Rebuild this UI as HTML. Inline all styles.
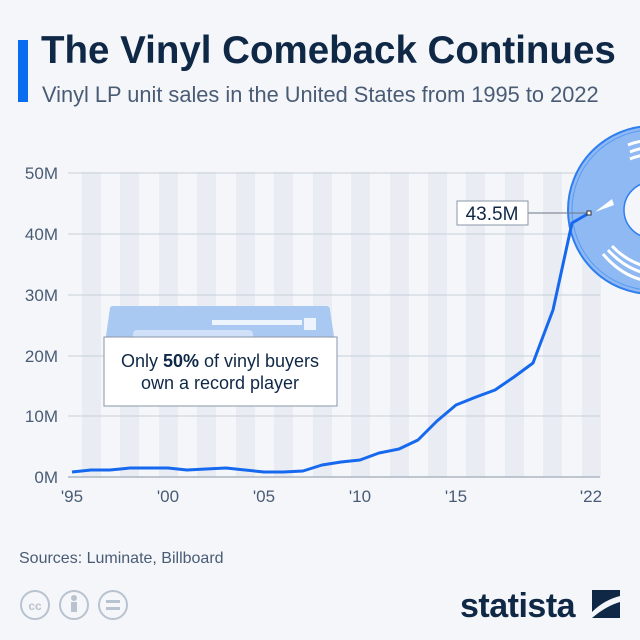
<!DOCTYPE html>
<html><head><meta charset="utf-8"><style>
body{margin:0;width:640px;height:640px;background:#f4f6f9;font-family:"Liberation Sans",sans-serif;overflow:hidden;position:relative}
.t{position:absolute;left:41px;top:29px;font-size:38.5px;font-weight:bold;color:#0f2846}
.bar{position:absolute;left:18px;top:40px;width:10px;height:62px;background:#0a6cf0}
.s{position:absolute;left:42px;top:82px;font-size:21.8px;color:#4a5c75}
.src{position:absolute;left:19px;top:550px;font-size:16px;color:#4a5c75}
</style></head><body>
<div class="bar"></div>
<div class="t">The Vinyl Comeback Continues</div>
<div class="s">Vinyl LP unit sales in the United States from 1995 to 2022</div>
<svg width="640" height="640" style="position:absolute;left:0;top:0">
<g fill="#e9edf3">
<rect x="82" y="172" width="19" height="305"/><rect x="120" y="172" width="19" height="305"/><rect x="159" y="172" width="19" height="305"/><rect x="197" y="172" width="19" height="305"/><rect x="236" y="172" width="19" height="305"/><rect x="274" y="172" width="19" height="305"/><rect x="313" y="172" width="19" height="305"/><rect x="351" y="172" width="19" height="305"/><rect x="390" y="172" width="19" height="305"/><rect x="428" y="172" width="19" height="305"/><rect x="466" y="172" width="19" height="305"/><rect x="505" y="172" width="19" height="305"/><rect x="543" y="172" width="19" height="305"/><rect x="582" y="172" width="19" height="305"/>
</g>
<g stroke="#c7ced9" stroke-width="1">
<line x1="68" x2="600" y1="173" y2="173"/><line x1="68" x2="600" y1="234" y2="234"/><line x1="68" x2="600" y1="295" y2="295"/><line x1="68" x2="600" y1="356" y2="356"/><line x1="68" x2="600" y1="416" y2="416"/>
</g>
<line x1="68" x2="600" y1="477" y2="477" stroke="#8a96a8"/>
<g font-size="17" fill="#4a5c75" text-anchor="end">
<text x="58" y="179">50M</text><text x="58" y="240">40M</text><text x="58" y="301">30M</text><text x="58" y="362">20M</text><text x="58" y="422">10M</text><text x="58" y="483">0M</text>
</g>
<g font-size="17" fill="#4a5c75" text-anchor="middle">
<text x="72" y="502">'95</text><text x="168" y="502">'00</text><text x="264" y="502">'05</text><text x="360" y="502">'10</text><text x="456" y="502">'15</text><text x="591" y="502">'22</text>
</g>
<path d="M110 308 Q110 306 114 306 L326 306 Q330 306 330 310 L336 350 L104 350 Z" fill="#a9c9f3"/>
<rect x="133" y="330" width="120" height="20" rx="4" fill="#cfe0f8"/>
<rect x="212" y="320" width="90" height="5" fill="#fff" opacity=".8"/>
<rect x="304" y="318" width="12" height="12" fill="#fff" opacity=".8"/>
<circle cx="652" cy="210" r="84" fill="#8fb9f2" stroke="#2f7ef0" stroke-width="2"/>
<circle cx="652" cy="210" r="80" fill="none" stroke="#5a9af2" stroke-width="1"/>
<circle cx="652" cy="210" r="28" fill="#f4f6f9" stroke="#2f7ef0" stroke-width="1.5"/>
<g fill="none" stroke="#fff" stroke-width="3">
<path d="M628 145 Q640 140 652 141"/><path d="M630 152 Q642 147 652 148"/><path d="M630 159 Q642 154 652 155"/><path d="M603 254 Q625 280 655 282"/><path d="M608 250 Q628 272 655 275"/><path d="M612 246 Q630 265 655 268"/>
</g>
<path d="M595 212 L612 199 L614 205 Z" fill="#fff"/>
<polyline fill="none" stroke="#1669ee" stroke-width="3" stroke-linejoin="round" points="72,472 91,470 110,470 130,468 149,468 168,468 187,470 206,469 226,468 245,470 264,472 283,472 303,471 322,465 341,462 360,460 379,453 399,449 418,440 437,421 456,405 476,397 495,390 514,377 533,363 553,310 572,223 591,212"/>
<line x1="528" y1="213" x2="589" y2="213" stroke="#6a7585"/>
<rect x="587" y="211" width="4" height="4" fill="#fff" stroke="#333" stroke-width="1"/>
<rect x="457" y="201" width="71" height="24" fill="#fff" stroke="#8a96a8"/>
<text x="492" y="220" font-size="19" text-anchor="middle" fill="#0f2846">43.5M</text>
<rect x="104" y="337" width="233" height="69" fill="#fff" stroke="#8a96a8"/>
<text x="220" y="367" font-size="18" text-anchor="middle" fill="#0f2846">Only <tspan font-weight="bold">50%</tspan> of vinyl buyers</text>
<text x="220" y="389" font-size="18" text-anchor="middle" fill="#0f2846">own a record player</text>
<g fill="none" stroke="#b9c3d0" stroke-width="2">
<circle cx="35" cy="605" r="14"/><circle cx="74" cy="605" r="14"/><circle cx="113" cy="605" r="14"/>
</g>
<text x="35" y="610" font-size="12" font-weight="bold" text-anchor="middle" fill="#b9c3d0">cc</text>
<circle cx="74" cy="598" r="3" fill="#b9c3d0"/><rect x="71" y="602" width="6" height="10" fill="#b9c3d0"/>
<rect x="106" y="600" width="14" height="3" fill="#b9c3d0"/><rect x="106" y="607" width="14" height="3" fill="#b9c3d0"/>
<text x="460" y="617" font-size="34" font-weight="bold" fill="#0f2846" letter-spacing="-0.5">statista</text>
<path d="M592 590 L620 590 L620 618 L592 618 Z" fill="#0f2846"/>
<path d="M592 612 Q604 600 620 596 L620 602 Q606 606 592 618 Z" fill="#f4f6f9"/>
</svg>
<div class="src">Sources: Luminate, Billboard</div>
</body></html>
